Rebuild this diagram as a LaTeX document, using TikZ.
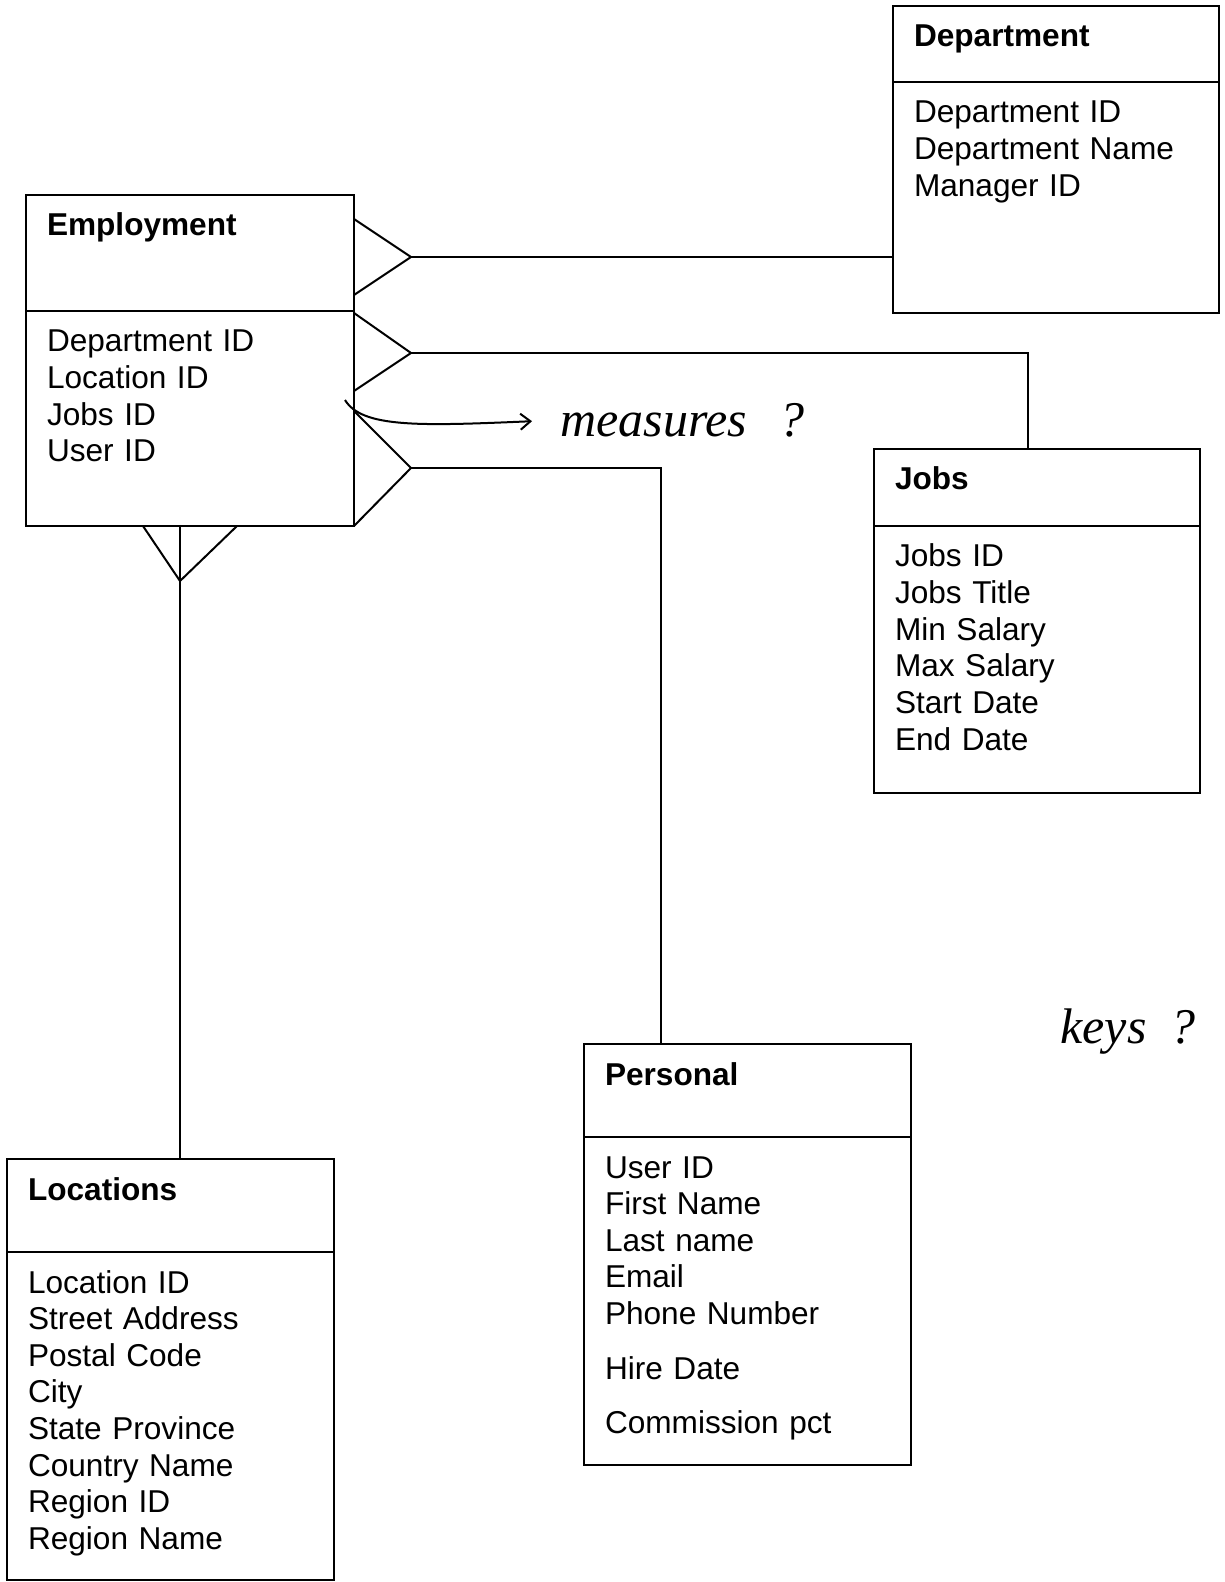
\documentclass[tikz,border=0pt]{standalone}
\usepackage{fontspec}
\setmainfont{Liberation Sans}
\newfontfamily\notefont{Liberation Serif}
\usetikzlibrary{arrows.meta,positioning}

\tikzset{
  ebox/.style={rectangle,draw,line width=1pt,anchor=north west,align=left,
               text width=#1,inner xsep=10.5pt,inner ysep=0pt,outer sep=0pt,
               text height=20.5pt,font=\fontsize{15.8}{18.3}\selectfont},
  ebox/.default=142.5pt,
  ehead/.style={ebox=#1,font=\fontsize{15.8}{18.3}\selectfont\bfseries},
  ehead/.default=142.5pt,
  rel/.style={line width=1pt},
  note/.style={inner sep=0pt,font=\notefont\itshape\fontsize{25}{28}\selectfont},
  hand/.style={line width=1pt,-{Straight Barb[length=5pt,width=8pt]}},
}

\begin{document}
\begin{tikzpicture}[x=0.5pt,y=-0.5pt]
  \useasboundingbox (0,0) rectangle (1224,1582);

  % entities
  \node[ehead=143pt,text depth=37.5pt] (empT) at (26,195) {Employment};
  \node[ebox=143pt,text depth=87pt,below=0pt of empT] (empA)
    {Department ID\\Location ID\\Jobs ID\\User ID};

  \node[ehead=142pt,text depth=17.5pt] (depT) at (893,6) {Department};
  \node[ebox=142pt,text depth=95pt,below=0pt of depT] (depA)
    {Department ID\\Department Name\\Manager ID};

  \node[ehead=142pt,text depth=18pt] (jobT) at (874,449) {Jobs};
  \node[ebox=142pt,text depth=113pt,below=0pt of jobT] (jobA)
    {Jobs ID\\Jobs Title\\Min Salary\\Max Salary\\Start Date\\End Date};

  \node[ehead,text depth=26pt] (prsT) at (584,1044) {Personal};
  \node[ebox,text depth=143.5pt,below=0pt of prsT] (prsA)
    {User ID\\First Name\\Last name\\Email\\Phone Number\\[9pt]Hire Date\\[9pt]Commission pct};

  \node[ehead,text depth=26pt] (locT) at (7,1159) {Locations};
  \node[ebox,text depth=143.5pt,below=0pt of locT] (locA)
    {Location ID\\Street Address\\Postal Code\\City\\State Province\\Country Name\\Region ID\\Region Name};

  % crow's feet
  \coordinate (fk1) at (411,257);
  \coordinate (fk2) at (411,353);
  \coordinate (fk3) at (411,468);
  \coordinate (fk4) at (180,581);

  \draw[rel] ([yshift=19pt]fk1 -| empT.east) -- (fk1) -- ([yshift=-19pt]fk1 -| empT.east);
  \draw[rel] ([yshift=20pt]fk2 -| empA.east) -- (fk2) -- ([yshift=-19pt]fk2 -| empA.east);
  \draw[rel] ([yshift=28.5pt]fk3 -| empA.east) -- (fk3) -- (empA.south east);
  \draw[rel] ([xshift=-18.5pt]fk4 |- empA.south) -- (fk4) -- ([xshift=28.5pt]fk4 |- empA.south);

  % relations
  \draw[rel] (fk1) -- (fk1 -| depA.west);
  \draw[rel] (fk2) -| ([xshift=-4.5pt]jobT.north);
  \draw[rel] (fk3) -| ([xshift=-43.25pt]prsT.north);
  \draw[rel] ([yshift=28pt]fk4) -- (fk4 |- locT.north);

  % handwritten notes
  \coordinate (ms0) at (345,400);
  \node[note,anchor=west] (ms) at (560,420) {measures\hspace{16pt}?};
  \draw[hand,shorten >=14pt] (ms0) .. controls (362,428) and (420,426) .. (ms.west);
  \node[note] (ks) at (1128,1032) {keys\hspace{12pt}?};
\end{tikzpicture}
\end{document}
